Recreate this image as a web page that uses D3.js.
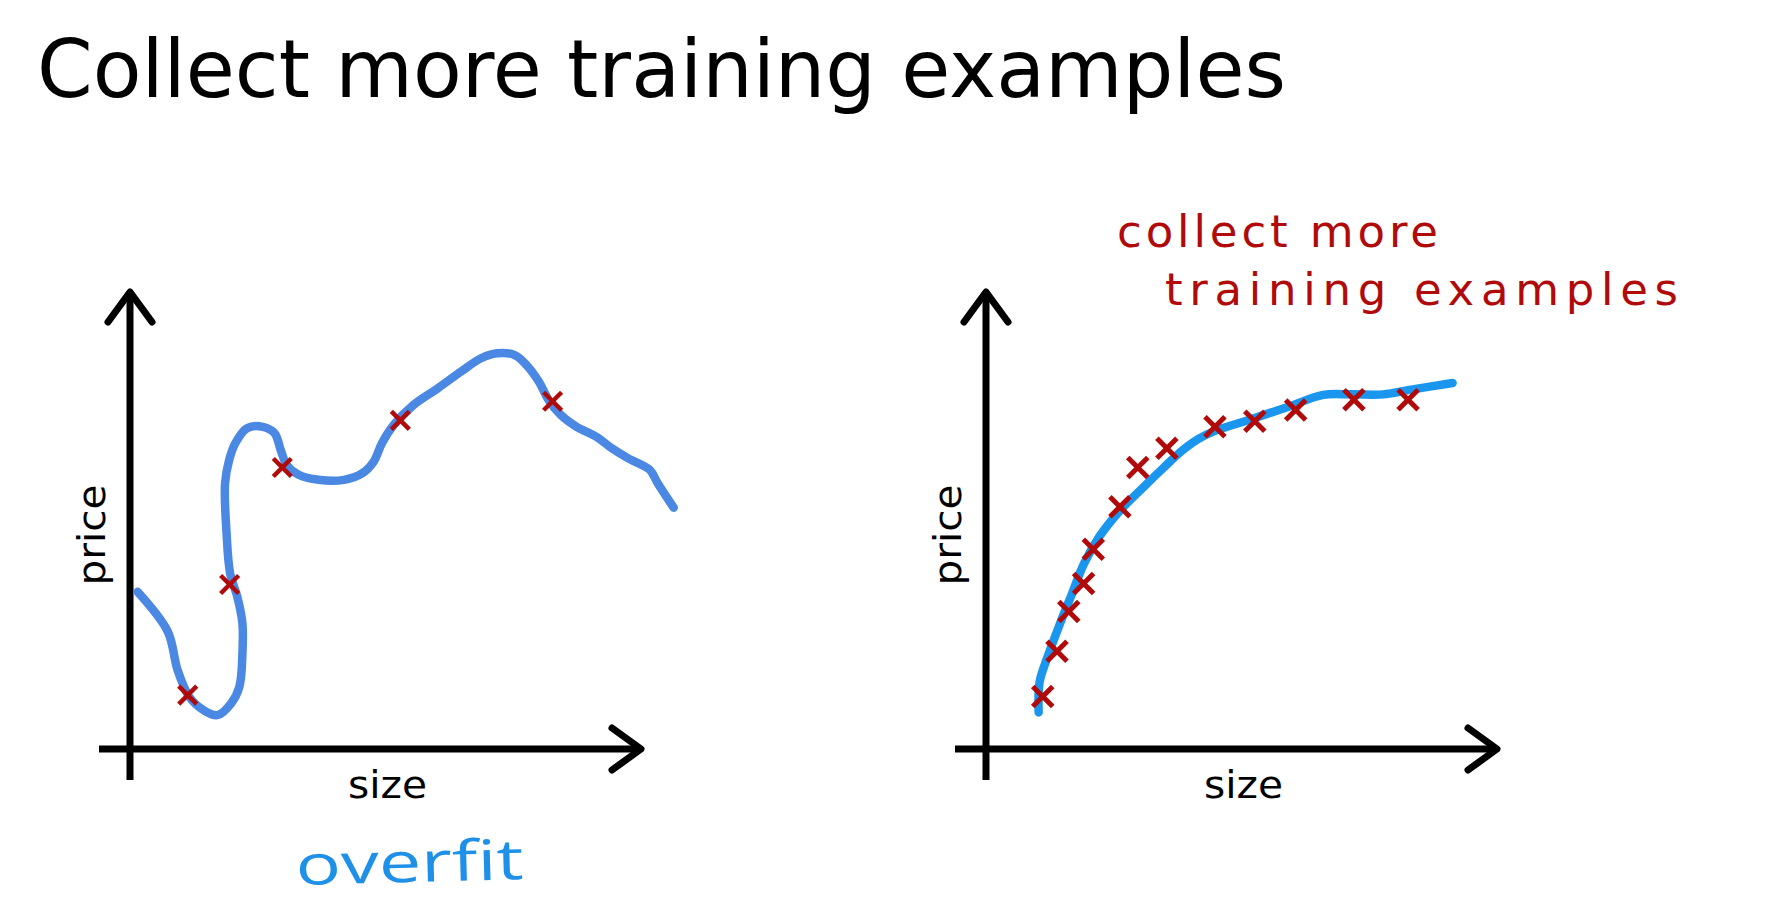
<!DOCTYPE html>
<html>
<head>
<meta charset="utf-8">
<script src="https://cdn.jsdelivr.net/npm/d3@7"></script>
<style>
  html, body { margin: 0; padding: 0; background: #ffffff; }
  svg { display: block; }
</style>
</head>
<body>
<svg id="chart" width="1773" height="911"></svg>
<script>
// ---------------- DATA ----------------
const titleText = "Collect more training examples";
const xLabel = "size";
const yLabel = "price";
const leftNote = "overfit";
const rightNoteLines = ["collect more", "training examples"];

// Left panel: overfit curve (size, price) in 0..100 units
const overfitCurveX = [1.5, 7.4, 9.3, 11.6, 14.4, 17.1, 19.8, 21.4, 22.0, 22.0, 21.0, 19.6, 18.9, 18.6, 19.4, 20.6, 22.9, 26.0, 28.3, 29.5, 30.7, 33.0, 36.9, 41.9, 45.4, 47.7, 49.3, 51.6, 55.5, 60.2, 64.8, 68.7, 71.8, 75.3, 77.6, 80.0, 81.9, 84.3, 87.4, 91.3, 94.3, 97.5, 101.7, 103.3, 106.4];
const overfitCurveY = [34.4, 25.7, 17.3, 11.4, 8.5, 7.4, 10.0, 13.6, 20.9, 27.5, 33.3, 38.4, 47.2, 58.1, 63.2, 66.9, 70.2, 70.5, 69.1, 65.4, 62.1, 60.0, 58.9, 58.9, 60.3, 62.9, 66.9, 70.9, 75.3, 78.9, 82.6, 85.5, 86.6, 86.2, 84.0, 80.4, 76.4, 73.1, 70.5, 68.3, 65.8, 63.6, 61.1, 58.1, 52.8];
const leftPointsX = [11.3, 19.5, 29.8, 52.9, 82.7];
const leftPointsY = [11.8, 36.0, 61.6, 71.9, 76.1];

// Right panel: many examples, smooth fit
const fitCurveX = [10.3, 10.5, 11.9, 14.4, 16.8, 19.2, 22.2, 26.0, 30.9, 34.8, 38.4, 41.5, 44.8, 51.4, 59.2, 66.0, 71.8, 77.7, 83.5, 91.3];
const fitCurveY = [8.0, 14.7, 19.7, 27.2, 33.9, 40.6, 46.5, 51.9, 57.4, 61.6, 65.3, 67.8, 69.6, 72.0, 74.9, 77.5, 77.6, 77.6, 78.7, 80.1];
const rightPointsX = [11.1, 13.9, 16.2, 19.1, 21.0, 26.2, 29.7, 35.4, 44.8, 52.6, 60.6, 72.0, 82.6];
const rightPointsY = [11.5, 21.4, 30.1, 36.2, 43.7, 53.0, 61.6, 65.8, 70.5, 71.7, 74.2, 76.4, 76.4];

// ---------------- LAYOUT ----------------
const svg = d3.select("#chart");
const BLACK = "#000000";
const RED = "#b00a0a";

svg.append("rect").attr("width", 1773).attr("height", 911).attr("fill", "#ffffff");

// Title
svg.append("text")
  .attr("x", 37).attr("y", 97)
  .attr("font-family", "'DejaVu Sans', Verdana, sans-serif")
  .attr("font-size", 81)
  .attr("fill", "#000")
  .attr("textLength", 1249).attr("lengthAdjust", "spacingAndGlyphs")
  .text(titleText);

function panel(opts) {
  const g = svg.append("g");
  const x = d3.scaleLinear().domain([0, 100]).range([opts.x0, opts.x0 + 511]);
  const y = d3.scaleLinear().domain([0, 100]).range([749, 292]);

  // axes
  const ax = g.append("g").attr("stroke", BLACK).attr("stroke-width", 7)
    .attr("fill", "none").attr("stroke-linecap", "round").attr("stroke-linejoin", "round");
  ax.append("line").attr("x1", x(0)).attr("x2", x(0)).attr("y1", y(0) + 31).attr("y2", y(100) + 2)
    .attr("stroke-linecap", "butt");
  ax.append("line").attr("x1", x(0) - 31).attr("x2", x(100) - 2).attr("y1", y(0)).attr("y2", y(0))
    .attr("stroke-linecap", "butt");
  ax.append("path").attr("d", d3.line()([[x(0) - 22, y(100) + 30], [x(0), y(100)], [x(0) + 22, y(100) + 30]]));
  ax.append("path").attr("d", d3.line()([[x(100) - 29, y(0) - 21], [x(100), y(0)], [x(100) - 29, y(0) + 21]]));

  // labels
  g.append("text")
    .attr("x", x(0) + 257.5).attr("y", 798)
    .attr("text-anchor", "middle")
    .attr("font-family", "'DejaVu Sans', Verdana, sans-serif")
    .attr("font-size", 37).attr("fill", "#000")
    .attr("textLength", 79).attr("lengthAdjust", "spacingAndGlyphs")
    .text(xLabel);
  g.append("text")
    .attr("transform", `translate(${x(0) - 25},535) rotate(-90)`)
    .attr("text-anchor", "middle")
    .attr("font-family", "'DejaVu Sans', Verdana, sans-serif")
    .attr("font-size", 37).attr("fill", "#000")
    .attr("textLength", 101).attr("lengthAdjust", "spacingAndGlyphs")
    .text(yLabel);

  // curve
  const pts = opts.cx.map((v, i) => [x(v), y(opts.cy[i])]);
  g.append("path")
    .attr("d", d3.line().curve(d3.curveCatmullRom.alpha(0.5))(pts))
    .attr("fill", "none").attr("stroke", opts.color).attr("stroke-width", 8.5)
    .attr("stroke-linecap", "round").attr("stroke-linejoin", "round");

  // x marks
  const s = opts.markSize;
  const mk = g.append("g").attr("stroke", RED).attr("stroke-width", opts.markWidth).attr("stroke-linecap", "butt");
  opts.px.forEach((v, i) => {
    const cx = x(v), cy = y(opts.py[i]);
    mk.append("line").attr("x1", cx - s).attr("y1", cy - s).attr("x2", cx + s).attr("y2", cy + s);
    mk.append("line").attr("x1", cx - s).attr("y1", cy + s).attr("x2", cx + s).attr("y2", cy - s);
  });
  return { g, x, y };
}

panel({ x0: 130, cx: overfitCurveX, cy: overfitCurveY, px: leftPointsX, py: leftPointsY,
        color: "#4a88e3", markSize: 9, markWidth: 4.5 });
panel({ x0: 986, cx: fitCurveX, cy: fitCurveY, px: rightPointsX, py: rightPointsY,
        color: "#1b96ee", markSize: 10, markWidth: 5 });

// handwritten notes
svg.append("text")
  .attr("transform", "translate(296,885) rotate(-1.5)")
  .attr("font-family", "'Open Sans', sans-serif")
  .attr("font-size", 56).attr("fill", "#1e90e8")
  .attr("textLength", 228).attr("lengthAdjust", "spacingAndGlyphs")
  .text(leftNote);

const noteX = [1117, 1165];
const noteY = [247, 305];
const noteW = [321, 513];
rightNoteLines.forEach((t, i) => {
  svg.append("text")
    .attr("x", noteX[i]).attr("y", noteY[i])
    .attr("font-family", "'DejaVu Sans', sans-serif")
    .attr("font-size", 45).attr("fill", RED)
    .attr("textLength", noteW[i]).attr("lengthAdjust", "spacing")
    .text(t);
});
</script>
</body>
</html>
